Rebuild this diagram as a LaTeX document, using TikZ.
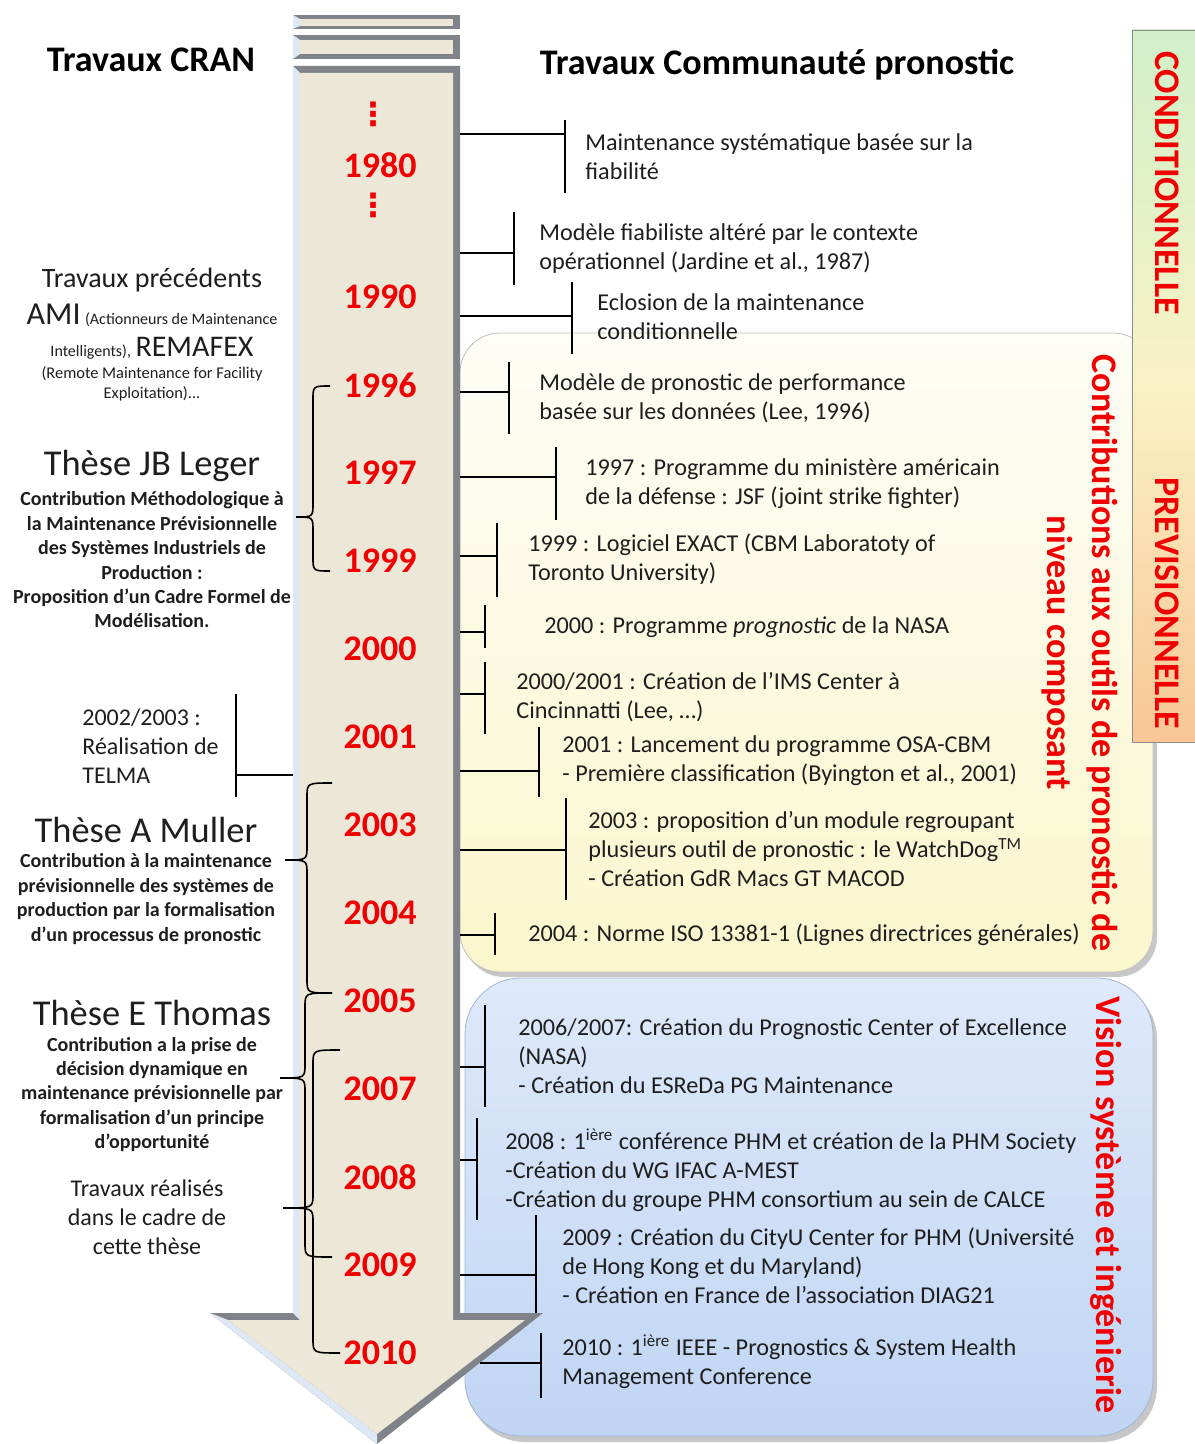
\documentclass[tikz,border=0pt]{standalone}
\usepackage{fontspec}
\setmainfont{Carlito}
\newfontfamily\dejavu{DejaVu Sans}
\definecolor{myred}{RGB}{240,0,0}
\definecolor{txt}{RGB}{30,30,30}
\definecolor{beige}{RGB}{236,231,214}
\definecolor{adark}{RGB}{128,132,138}
\definecolor{alight}{RGB}{222,232,244}
\definecolor{ytop}{RGB}{254,253,246}
\definecolor{ybot}{RGB}{250,246,205}
\definecolor{btop}{RGB}{222,233,250}
\definecolor{bbot}{RGB}{192,213,244}
\definecolor{bedge}{RGB}{160,180,210}
\definecolor{gtop}{RGB}{208,240,202}
\definecolor{gmid}{RGB}{250,242,196}
\definecolor{gbot}{RGB}{249,198,150}
\newcommand\itemtick[6]{%
  \coordinate (#1e) at (#2,#6);
  \coordinate (#1b) at (#3,#6);
  \coordinate (#1t) at (#3,#4);
  \coordinate (#1u) at (#3,#5);
  \draw[conn] (#1t) -- (#1u);
  \draw[conn] (#1e) -- (#1b);}
\newcommand\mybrace[6]{%
  \draw[brace] (#1,#2) .. controls ({#4},{#2}) .. ({#4},{#2+14}) -- ({#4},{#6-14}) .. controls ({#4},{#6}) .. ({#5},{#6}) .. controls ({#4},{#6}) .. ({#4},{#6+14}) -- ({#4},{#3-14}) .. controls ({#4},{#3}) .. ({#1},{#3});}
\begin{document}
\begin{tikzpicture}[x=0.5pt,y=-0.5pt,
  year/.style={font=\bfseries\fontsize{18}{18}\selectfont, text=myred, inner sep=0pt},
  dots/.style={font=\dejavu\bfseries\fontsize{16}{16}\selectfont, text=myred, inner sep=0pt},
  itemtext/.style={font=\fontsize{12.1}{14.5}\selectfont, text=txt, align=left, anchor=west, inner sep=0pt},
  conn/.style={line width=0.9pt, black},
  brace/.style={line width=0.8pt, black},
  desc/.style={font=\bfseries\fontsize{10}{12.2}\selectfont, text=txt, align=center, inner sep=0pt},
  ttl/.style={font=\fontsize{18.2}{20}\selectfont, text=txt, inner sep=0pt},
  plain/.style={font=\fontsize{12}{14.5}\selectfont, text=txt, align=center, inner sep=0pt},
  side/.style={font=\bfseries\fontsize{18}{22.5}\selectfont, text=myred, rotate=-90, align=center, inner sep=0pt},
  header/.style={font=\bfseries\fontsize{18}{20}\selectfont, text=black, inner sep=0pt}
]
\useasboundingbox (0,0) rectangle (1194,1444);
\fill[white] (0,0) rectangle (1194,1444);

% panels
\path[fill=black!22, rounded corners=20pt] (464,338) rectangle (1157,977);
\path[draw=black!25, top color=ytop, bottom color=ybot, rounded corners=20pt] (460,333) rectangle (1153,972);
\path[fill=black!22, rounded corners=28pt] (469,983) rectangle (1157,1442);
\path[draw=bedge, top color=btop, bottom color=bbot, rounded corners=28pt] (465,978) rectangle (1153,1436);
\path[draw=black!45, top color=gtop, bottom color=gbot, middle color=gmid] (1132,30) rectangle (1200,742);

% arrow
\fill[adark] (293,15) rectangle (460,29);
\fill[beige] (300,19) rectangle (453,26);
\fill[alight] (293,15) -- (300,19) -- (300,26) -- (293,29) -- cycle;
\fill[adark] (293,35) rectangle (460,59);
\fill[beige] (300,40) rectangle (453,54);
\fill[alight] (293,35) -- (300,40) -- (300,54) -- (293,59) -- cycle;
\fill[adark] (293,66) -- (460,66) -- (460,1313) -- (543,1313) -- (377,1444) -- (210,1313) -- (293,1313) -- cycle;
\fill[alight] (293,66) -- (300,73) -- (300,1320) -- (293,1313) -- cycle;
\fill[alight] (210,1313) -- (228,1320) -- (377,1434) -- (377,1444) -- cycle;
\fill[beige] (300,73) -- (453,73) -- (453,1320) -- (525,1320) -- (377,1434) -- (228,1320) -- (300,1320) -- cycle;

% headers
\node[header] (hcran) at (151,60) {Travaux CRAN};
\node[header] (hcomm) at (777,65) {Travaux Communauté pronostic};

% years
\node[dots] (d1) at (373,114) {⋮};
\node[year] (y1980) at (380,165) {1980};
\node[dots] (d2) at (373,205) {⋮};
\node[year] (y1990) at (380,297) {1990};
\node[year] (y1996) at (380,385) {1996};
\node[year] (y1997) at (380,473) {1997};
\node[year] (y1999) at (380,561) {1999};
\node[year] (y2000) at (380,649) {2000};
\node[year] (y2001) at (380,737) {2001};
\node[year] (y2003) at (380,825) {2003};
\node[year] (y2004) at (380,913) {2004};
\node[year] (y2005) at (380,1001) {2005};
\node[year] (y2007) at (380,1089) {2007};
\node[year] (y2008) at (380,1177) {2008};
\node[year] (y2009) at (380,1265) {2009};
\node[year] (y2010) at (380,1353) {2010};

% right items: ticks
\itemtick{a}{460}{565}{120}{193}{134}
\itemtick{b}{460}{514}{212}{285}{253}
\itemtick{c}{460}{572}{282}{354}{316}
\itemtick{d}{460}{509}{362}{434}{392}
\itemtick{e}{460}{556}{447}{520}{477}
\itemtick{f}{460}{497}{523}{597}{556}
\itemtick{g}{460}{485}{605}{648}{632}
\itemtick{h}{460}{485}{662}{734}{694}
\itemtick{i}{460}{539}{727}{797}{771}
\itemtick{j}{460}{566}{798}{900}{850}
\itemtick{k}{460}{495}{913}{955}{935}
\itemtick{l}{460}{485}{1005}{1107}{1067}
\itemtick{m}{460}{477}{1118}{1220}{1160}
\itemtick{n}{460}{536}{1215}{1313}{1275}
\itemtick{o}{480}{541}{1333}{1398}{1363}

% right items: texts
\node[itemtext] (ia) at (585,156.5) {Maintenance systématique basée sur la\\fiabilité};
\node[itemtext] (ib) at (539,248.5) {Modèle fiabiliste altéré par le contexte\\opérationnel (Jardine et al., 1987)};
\node[itemtext] (ic) at (597,316.5) {Eclosion de la maintenance\\conditionnelle};
\node[itemtext] (id) at (539,398.5) {Modèle de pronostic de performance\\basée sur les données (Lee, 1996)};
\node[itemtext] (ie) at (585,483.5) {1997 : Programme du ministère américain\\de la défense : JSF (joint strike fighter)};
\node[itemtext] (if) at (528,559.5) {1999 : Logiciel EXACT (CBM Laboratoty of\\Toronto University)};
\node[itemtext] (ig) at (544,627) {2000 : Programme \textit{prognostic} de la NASA};
\node[itemtext] (ih) at (516,697.5) {2000/2001 : Création de l’IMS Center à\\Cincinnatti (Lee, …)};
\node[itemtext] (ii) at (562,760.5) {2001 : Lancement du programme OSA-CBM\\- Première classification (Byington et al., 2001)};
\node[itemtext] (ij) at (588,849.5) {2003 : proposition d’un module regroupant\\plusieurs outil de pronostic : le WatchDog\textsuperscript{TM}\\- Création GdR Macs GT MACOD};
\node[itemtext] (ik) at (528,935) {2004 : Norme ISO 13381-1 (Lignes directrices générales)};
\node[itemtext] (il) at (518,1056) {2006/2007: Création du Prognostic Center of Excellence\\(NASA)\\- Création du ESReDa PG Maintenance};
\node[itemtext] (im) at (505,1170) {2008 : 1\textsuperscript{ière} conférence PHM et création de la PHM Society\\-Création du WG IFAC A-MEST\\-Création du groupe PHM consortium au sein de CALCE};
\node[itemtext] (in) at (562,1266) {2009 : Création du CityU Center for PHM (Université\\de Hong Kong et du Maryland)\\- Création en France de l’association DIAG21};
\node[itemtext] (io) at (562,1361.5) {2010 : 1\textsuperscript{ière} IEEE - Prognostics \& System Health\\Management Conference};

% side labels
\node[side] (scond) at (1167,183) {CONDITIONNELLE};
\node[side] (sprev) at (1167,603) {PREVISIONNELLE};
\node[side] (scontr) at (1080,653) {Contributions aux outils de pronostic de\\niveau composant};
\node[side] (svis) at (1106,1205) {Vision système et ingénierie};

% left side
\node[font=\fontsize{14}{15}\selectfont, text=txt, inner sep=0pt] (p1) at (152,280) {Travaux précédents};
\node[text=txt, inner sep=0pt] (p2) at (152,315) {{\fontsize{16}{16}\selectfont AMI} {\fontsize{8}{8}\selectfont (Actionneurs de Maintenance}};
\node[text=txt, inner sep=0pt] (p3) at (152,348) {{\fontsize{8}{8}\selectfont Intelligents),} {\fontsize{15}{15}\selectfont REMAFEX}};
\node[font=\fontsize{8.2}{10}\selectfont, text=txt, align=center, inner sep=0pt] (p4) at (152,384) {(Remote Maintenance for Facility\\Exploitation)...};

\node[ttl] (tjb) at (152,466) {Thèse JB Leger};
\node[desc] (djb) at (152,560) {Contribution Méthodologique à\\la Maintenance Prévisionnelle\\des Systèmes Industriels de\\Production :\\Proposition d'un Cadre Formel de\\Modélisation.};

\node[plain, align=left, anchor=west] (telma) at (82,746) {2002/2003 :\\Réalisation de\\TELMA};
\coordinate (telmaT) at (236,694);
\coordinate (telmaU) at (236,797);
\coordinate (telmaB) at (236,775);
\coordinate (telmaE) at (293,775);
\draw[conn] (telmaT) -- (telmaU);
\draw[conn] (telmaB) -- (telmaE);

\node[ttl] (tam) at (146,830) {Thèse A Muller};
\node[desc] (dam) at (146,899) {Contribution à la maintenance\\prévisionnelle des systèmes de\\production par la formalisation\\d’un processus de pronostic};

\node[ttl] (tet) at (152,1013) {Thèse E Thomas};
\node[desc] (det) at (152,1094.5) {Contribution a la prise de\\décision dynamique en\\maintenance prévisionnelle par\\formalisation d’un principe\\d’opportunité};

\node[plain] (trav) at (147,1217) {Travaux réalisés\\dans le cadre de\\cette thèse};

% braces
\mybrace{330}{386}{571}{313}{296}{517}
\mybrace{332}{783}{993}{307}{285}{860}
\mybrace{332}{993}{1257}{305}{280}{1078}
\mybrace{340}{1050}{1353}{313}{283}{1208}
\end{tikzpicture}
\end{document}
